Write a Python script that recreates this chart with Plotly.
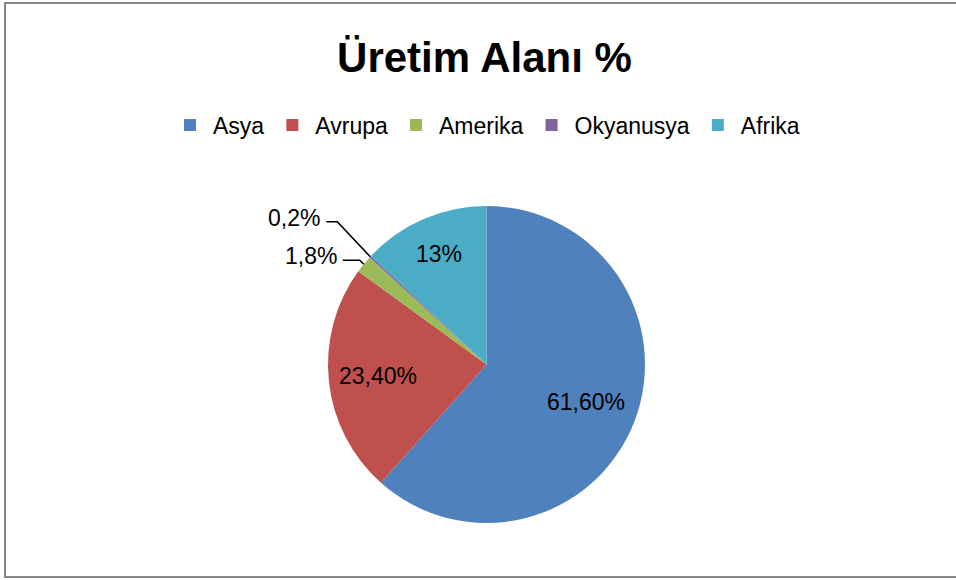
import math
import plotly.graph_objects as go

# ---- data ----
regions = ["Asya", "Avrupa", "Amerika", "Okyanusya", "Afrika"]
shares = [61.6, 23.4, 1.8, 0.2, 13.0]
label_texts = ["61,60%", "23,40%", "1,8%", "0,2%", "13%"]
colors = ["#4F81BD", "#C0504D", "#9BBB59", "#8064A2", "#4BACC6"]

# ---- style / geometry constants ----
W, H = 956, 580
CX, CY, R = 486.5, 364.5, 158.5          # pie centre & radius (px)
FONT = "Liberation Sans, Arial, sans-serif"
LABEL_SIZE = 23
# inside-label radial factor per slice (others -> outside label with leader)
inside_factor = {"Asya": 0.67, "Avrupa": 0.69, "Afrika": 0.76}
# outside leader geometry (px): elbow offset from edge point, horizontal length
leader = {"Amerika": (-4, -4, 17), "Okyanusya": (-33, -35, 11)}


def px2paper(x, y):
    return x / W, 1 - y / H


fig = go.Figure(go.Pie(
    labels=regions, values=shares, sort=False, direction="clockwise",
    rotation=0, marker=dict(colors=colors, line=dict(width=0)),
    textinfo="none", hoverinfo="label+percent",
    domain=dict(x=[(CX - R) / W, (CX + R) / W],
                y=[(H - CY - R) / H, (H - CY + R) / H]),
))

total = sum(shares)
annotations = []
shapes = []
cum = 0.0
for name, v, txt in zip(regions, shares, label_texts):
    mid = (cum + v / 2) / total * 2 * math.pi
    cum += v
    sx, sy = math.sin(mid), -math.cos(mid)
    if name in inside_factor:
        f = inside_factor[name]
        x, y = px2paper(CX + f * R * sx, CY + f * R * sy)
        annotations.append(dict(x=x, y=y, xref="paper", yref="paper", text=txt,
                                showarrow=False, xanchor="center", yanchor="middle",
                                font=dict(family=FONT, size=LABEL_SIZE, color="#000000")))
    else:
        ex, ey = CX + R * sx, CY + R * sy
        dx, dy, hl = leader[name]
        bx, by = ex + dx, ey + dy
        ax, ay = bx - hl, by
        p = [px2paper(*pt) for pt in [(ax, ay), (bx, by), (ex, ey)]]
        shapes.append(dict(type="path", xref="paper", yref="paper",
                           path="M {} {} L {} {} L {} {}".format(p[0][0], p[0][1], p[1][0], p[1][1], p[2][0], p[2][1]),
                           line=dict(color="#000000", width=1.6)))
        tx, ty = px2paper(ax - 4, ay - 4)
        annotations.append(dict(x=tx, y=ty, xref="paper", yref="paper", text=txt,
                                showarrow=False, xanchor="right", yanchor="middle",
                                font=dict(family=FONT, size=LABEL_SIZE, color="#000000")))

# chart border (right side falls outside the picture, as in the original)
shapes.append(dict(type="rect", xref="paper", yref="paper",
                   x0=5 / W, x1=1.1, y0=1 - 577 / H, y1=1 - 3 / H,
                   line=dict(color="#868686", width=2)))

fig.update_layout(
    width=W, height=H,
    margin=dict(l=0, r=0, t=0, b=0),
    paper_bgcolor="white", plot_bgcolor="white",
    title=dict(text="<b>Üretim Alanı %</b>", x=484.5 / W, xanchor="center",
               y=1 - 57 / H, yanchor="middle",
               font=dict(family=FONT, size=42, color="#000000")),
    legend=dict(orientation="h", x=486 / W, xanchor="center",
                y=1 - 125 / H, yanchor="middle", itemwidth=36,
                font=dict(family=FONT, size=LABEL_SIZE, color="#000000"),
                itemclick=False, traceorder="normal"),
    annotations=annotations,
    shapes=shapes,
)

fig.write_html("out.html", config={"displayModeBar": False},
               post_script="document.body.style.margin='0';document.body.style.overflow='hidden';")
